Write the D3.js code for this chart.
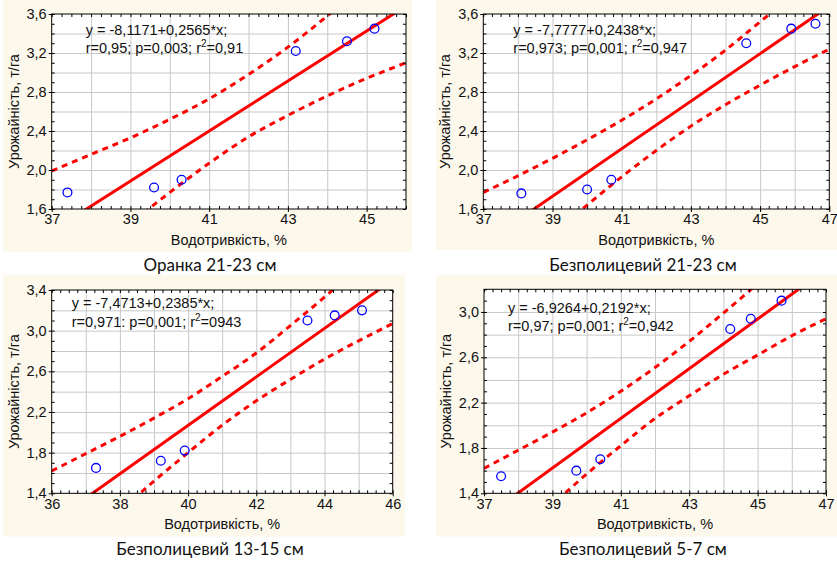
<!DOCTYPE html>
<html>
<head>
<meta charset="utf-8">
<script src="https://cdn.jsdelivr.net/npm/d3@7"></script>
<style>
  html, body { margin: 0; padding: 0; background: #fff; }
  svg text { font-family: "Liberation Sans", Arial, sans-serif; fill: #111; }
  svg text.cap { font-family: "Lato", "Open Sans", sans-serif; }
</style>
</head>
<body>
<div id="chart"></div>
<script>
// --- data ---
const captions = ['Оранка 21-23 см', 'Безполицевий 21-23 см', 'Безполицевий 13-15 см', 'Безполицевий 5-7 см'];
const xTitle = 'Водотривкість, %';
const yTitle = 'Урожайність, т/га';

const eqLine1 = ['y = -8,1171+0,2565*x;', 'y = -7,7777+0,2438*x;', 'y = -7,4713+0,2385*x;', 'y = -6,9264+0,2192*x;'];
const eqStats = ['r=0,95; p=0,003; r', 'r=0,973; p=0,001; r', 'r=0,971: p=0,001; r', 'r=0,97; p=0,001; r'];
const eqR2 = ['=0,91', '=0,947', '=0943', '=0,942'];

const fitIntercept = [-8.1171, -7.7777, -7.4713, -6.9264];
const fitSlope = [0.2565, 0.2438, 0.2385, 0.2192];

// observed points
const ptsX = [
  [37.4, 39.6, 40.3, 43.2, 44.5, 45.2],
  [38.1, 40.0, 40.7, 44.6, 45.9, 46.6],
  [37.3, 39.2, 39.9, 43.5, 44.3, 45.1],
  [37.5, 39.7, 40.4, 44.2, 44.8, 45.7]
];
const ptsY = [
  [1.77, 1.82, 1.90, 3.22, 3.32, 3.45],
  [1.76, 1.80, 1.90, 3.30, 3.45, 3.50],
  [1.65, 1.72, 1.82, 3.10, 3.15, 3.20],
  [1.55, 1.60, 1.70, 2.85, 2.94, 3.10]
];

// 95% confidence band, read at whole x values
const bandX = [
  [37, 38, 39, 40, 41, 42, 43, 44, 45, 46],
  [37, 38, 39, 40, 41, 42, 43, 44, 45, 46, 47],
  [36, 37, 38, 39, 40, 41, 42, 43, 44, 45, 46],
  [37, 38, 39, 40, 41, 42, 43, 44, 45, 46, 47]
];
const bandUpper = [
  [1.99, 2.16, 2.33, 2.52, 2.73, 2.98, 3.26, 3.58, 3.92, 4.26],
  [1.77, 1.94, 2.12, 2.31, 2.51, 2.73, 2.97, 3.23, 3.52, 3.81, 4.12],
  [1.62, 1.79, 1.96, 2.14, 2.33, 2.55, 2.78, 3.05, 3.33, 3.63, 3.93],
  [1.62, 1.78, 1.94, 2.11, 2.30, 2.51, 2.74, 2.99, 3.25, 3.53, 3.81]
];
const bandLower = [
  [0.75, 1.10, 1.45, 1.77, 2.07, 2.34, 2.56, 2.76, 2.94, 3.10],
  [0.72, 1.03, 1.34, 1.64, 1.93, 2.20, 2.45, 2.67, 2.87, 3.06, 3.24],
  [0.61, 0.92, 1.22, 1.52, 1.80, 2.07, 2.31, 2.52, 2.72, 2.90, 3.07],
  [0.75, 1.03, 1.30, 1.57, 1.82, 2.06, 2.26, 2.45, 2.62, 2.79, 2.94]
];

// axis ranges and labelled ticks
const xDomains = [[37, 46], [37, 47], [36, 46], [37, 47]];
const yDomains = [[1.6, 3.6], [1.6, 3.6], [1.4, 3.4], [1.4, 3.2]];
const xTickLabels = [[37, 39, 41, 43, 45], [37, 39, 41, 43, 45, 47], [36, 38, 40, 42, 44, 46], [37, 39, 41, 43, 45, 47]];
const yTickLabels = [[1.6, 2.0, 2.4, 2.8, 3.2, 3.6], [1.6, 2.0, 2.4, 2.8, 3.2, 3.6], [1.4, 1.8, 2.2, 2.6, 3.0, 3.4], [1.4, 1.8, 2.2, 2.6, 3.0]];

// --- layout ---
const W = 837, H = 562;
const FS = 14.5;
const frames = [
  { l: 51.7, r: 406,   t: 14,    b: 209,   bg: [3, 0, 409, 251.7],   eq: [34, 21, 39], cap: [210, 271] },
  { l: 483.3, r: 829.3, t: 14,   b: 209,   bg: [436, 0, 401, 250],   eq: [30, 21, 39], cap: [643, 271] },
  { l: 51.7, r: 392.7, t: 290,   b: 493.3, bg: [3, 275, 402, 261.7], eq: [20, 18, 37], cap: [210, 555] },
  { l: 484,  r: 826,   t: 289.3, b: 493.3, bg: [436, 275, 401, 261.7], eq: [24, 24, 42], cap: [643, 555] }
];

const RED = '#ff0000', BLUE = '#0000ff', GRID = '#c8c8c8';
const fmt = d => d.toFixed(1).replace('.', ',');

const svg = d3.select('#chart').append('svg')
  .attr('width', W).attr('height', H).attr('viewBox', `0 0 ${W} ${H}`);

svg.append('rect').attr('width', W).attr('height', H).attr('fill', '#fff');

frames.forEach((f, i) => {
  const g = svg.append('g');
  g.append('rect').attr('x', f.bg[0]).attr('y', f.bg[1]).attr('width', f.bg[2]).attr('height', f.bg[3])
    .attr('fill', '#fdf8ec');

  const x = d3.scaleLinear().domain(xDomains[i]).range([f.l, f.r]);
  const y = d3.scaleLinear().domain(yDomains[i]).range([f.b, f.t]);
  const w = f.r - f.l, h = f.b - f.t;

  g.append('rect').attr('x', f.l).attr('y', f.t).attr('width', w).attr('height', h).attr('fill', '#fff');

  // grid: every unit in x, every 0.2 in y
  const xGrid = d3.range(xDomains[i][0] + 1, xDomains[i][1]);
  const yGrid = d3.range(Math.round(yDomains[i][0] * 10) + 2, Math.round(yDomains[i][1] * 10), 2).map(v => v / 10);
  g.append('g').attr('transform', `translate(0,${f.b})`)
    .call(d3.axisBottom(x).tickValues(xGrid).tickSize(-h).tickFormat(''))
    .call(a => a.select('.domain').remove())
    .call(a => a.selectAll('line').attr('stroke', GRID));
  g.append('g').attr('transform', `translate(${f.l},0)`)
    .call(d3.axisLeft(y).tickValues(yGrid).tickSize(-w).tickFormat(''))
    .call(a => a.select('.domain').remove())
    .call(a => a.selectAll('line').attr('stroke', GRID));

  // fit line + confidence band, clipped to the plot
  const clipId = 'clip' + i;
  g.append('clipPath').attr('id', clipId).append('rect')
    .attr('x', f.l).attr('y', f.t).attr('width', w).attr('height', h);
  const plot = g.append('g').attr('clip-path', `url(#${clipId})`);

  const band = d3.line().x(d => x(d[0])).y(d => y(d[1])).curve(d3.curveMonotoneX);
  [bandUpper[i], bandLower[i]].forEach(vals => {
    plot.append('path').datum(d3.zip(bandX[i], vals))
      .attr('fill', 'none').attr('stroke', RED).attr('stroke-width', 3)
      .attr('stroke-dasharray', '6,5').attr('d', band);
  });

  const fitEnds = xDomains[i].map(xv => [xv, fitIntercept[i] + fitSlope[i] * xv]);
  plot.append('path').datum(fitEnds)
    .attr('fill', 'none').attr('stroke', RED).attr('stroke-width', 3)
    .attr('d', d3.line().x(d => x(d[0])).y(d => y(d[1])));

  plot.selectAll(null).data(d3.zip(ptsX[i], ptsY[i])).enter().append('circle')
    .attr('cx', d => x(d[0])).attr('cy', d => y(d[1])).attr('r', 4.4)
    .attr('fill', 'none').attr('stroke', BLUE).attr('stroke-width', 1.3);

  // minor ticks pointing inwards on all four sides
  const xMinor = d3.range(xDomains[i][0] * 4, xDomains[i][1] * 4 + 1).map(v => v / 4);
  const yMinor = d3.range(Math.round(yDomains[i][0] * 10), Math.round(yDomains[i][1] * 10) + 1).map(v => v / 10);
  const noLbl = a => a.call(s => s.select('.domain').remove()).call(s => s.selectAll('line').attr('stroke', '#000'));
  g.append('g').attr('transform', `translate(0,${f.t})`).call(d3.axisBottom(x).tickValues(xMinor).tickSize(3).tickFormat('')).call(noLbl);
  g.append('g').attr('transform', `translate(0,${f.b})`).call(d3.axisTop(x).tickValues(xMinor).tickSize(3).tickFormat('')).call(noLbl);
  g.append('g').attr('transform', `translate(${f.l},0)`).call(d3.axisRight(y).tickValues(yMinor).tickSize(3).tickFormat('')).call(noLbl);
  g.append('g').attr('transform', `translate(${f.r},0)`).call(d3.axisLeft(y).tickValues(yMinor).tickSize(3).tickFormat('')).call(noLbl);

  g.append('rect').attr('x', f.l).attr('y', f.t).attr('width', w).attr('height', h)
    .attr('fill', 'none').attr('stroke', '#000').attr('stroke-width', 1);

  // labelled axes
  g.append('g').attr('transform', `translate(0,${f.b})`)
    .call(d3.axisBottom(x).tickValues(xTickLabels[i]).tickSize(3).tickPadding(2).tickFormat(d => d))
    .call(a => a.select('.domain').remove())
    .call(a => a.selectAll('line').attr('stroke', '#000'))
    .call(a => a.selectAll('text').attr('font-size', FS));
  g.append('g').attr('transform', `translate(${f.l},0)`)
    .call(d3.axisLeft(y).tickValues(yTickLabels[i]).tickSize(3).tickPadding(2).tickFormat(fmt))
    .call(a => a.select('.domain').remove())
    .call(a => a.selectAll('line').attr('stroke', '#000'))
    .call(a => a.selectAll('text').attr('font-size', FS));

  g.append('text').attr('x', (f.l + f.r) / 2).attr('y', f.b + 36).attr('text-anchor', 'middle')
    .attr('font-size', FS).text(xTitle);
  g.append('text').attr('transform', `translate(${f.l - 33},${(f.t + f.b) / 2}) rotate(-90)`)
    .attr('text-anchor', 'middle').attr('font-size', FS).text(yTitle);

  // regression text
  g.append('text').attr('x', f.l + f.eq[0]).attr('y', f.t + f.eq[1]).attr('font-size', FS).text(eqLine1[i]);
  const t2 = g.append('text').attr('x', f.l + f.eq[0]).attr('y', f.t + f.eq[2]).attr('font-size', FS);
  t2.append('tspan').text(eqStats[i]);
  t2.append('tspan').attr('font-size', 10).attr('dy', -6).text('2');
  t2.append('tspan').attr('dy', 6).text(eqR2[i]);

  g.append('text').attr('class', 'cap').attr('x', f.cap[0]).attr('y', f.cap[1])
    .attr('text-anchor', 'middle').attr('font-size', 17).text(captions[i]);
});
</script>
</body>
</html>
